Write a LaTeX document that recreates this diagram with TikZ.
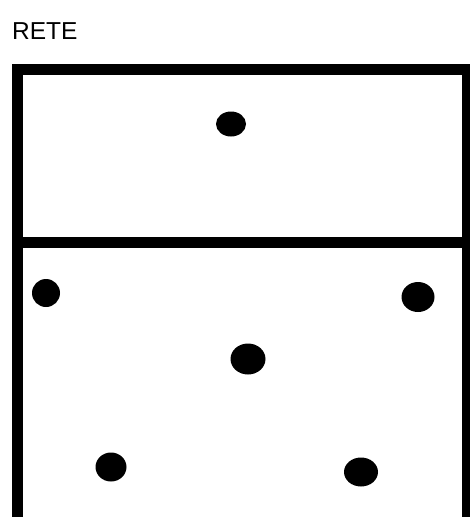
\documentclass[tikz,border=0pt]{standalone}
\usepackage{fontspec}
\setmainfont{Liberation Sans}
\usetikzlibrary{shapes.geometric}
\begin{document}
\begin{tikzpicture}[x=1pt,y=-1pt,
  dot/.style={ellipse,fill=black,inner sep=0pt},
  wall/.style={line width=11pt,draw=black,line join=miter}]
\useasboundingbox (0,0) rectangle (470,517);
\fill[white] (0,0) rectangle (470,517);
\node[anchor=base west,inner sep=0pt,font=\fontsize{24.5}{27}\selectfont] (title) at (12,39) {RETE};
\begin{scope}
\clip (0,0) rectangle (470,517);
\draw[wall] (17.5,540) -- (17.5,69.5) -- (467.5,69.5) -- (467.5,540);
\draw[wall] (17.5,242.5) -- (467.5,242.5);
\end{scope}
\node[dot,minimum width=30pt,minimum height=25pt] (top) at (231,124) {};
\node[dot,minimum width=28pt,minimum height=28pt] (left) at (46,293) {};
\node[dot,minimum width=33pt,minimum height=30pt] (right) at (418,297) {};
\node[dot,minimum width=35pt,minimum height=31pt] (center) at (248,359) {};
\node[dot,minimum width=31pt,minimum height=29pt] (bl) at (111,467) {};
\node[dot,minimum width=34pt,minimum height=29pt] (br) at (361,472) {};
\end{tikzpicture}
\end{document}
